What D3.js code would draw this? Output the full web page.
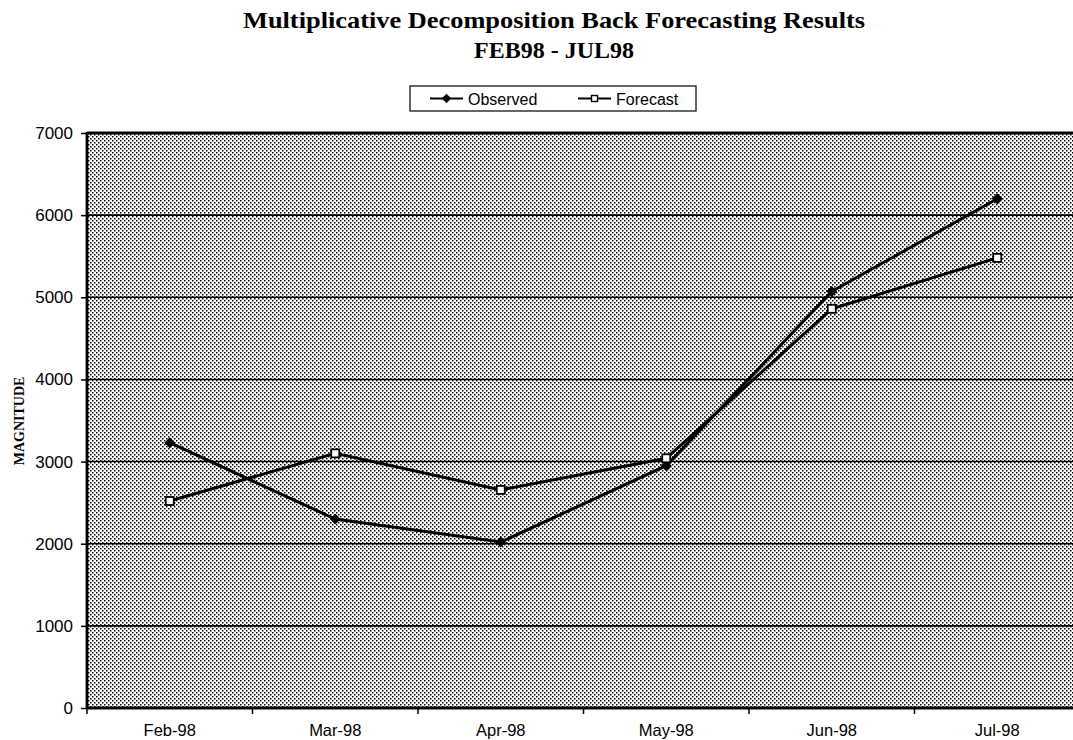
<!DOCTYPE html>
<html><head><meta charset="utf-8">
<script src="https://cdn.jsdelivr.net/npm/d3@7"></script>
<style>body{margin:0;background:#fff}svg{display:block}</style>
</head><body>
<svg id="chart" width="1073" height="740"></svg>
<script>
const categories = ["Feb-98","Mar-98","Apr-98","May-98","Jun-98","Jul-98"];
const observed = [3230, 2300, 2020, 2950, 5070, 6200];
const forecast = [2520, 3100, 2655, 3040, 4860, 5480];
const yTicks = [0,1000,2000,3000,4000,5000,6000,7000];
const titleLines = ["Multiplicative Decomposition Back Forecasting Results","FEB98 - JUL98"];
const yTitle = "MAGNITUDE";
const seriesNames = ["Observed","Forecast"];

const svg = d3.select("#chart");
const L = 87, R = 1080, T = 133, B = 708;
const sans = "Arial, 'Liberation Sans', sans-serif";
const serif = "'Times New Roman', 'Liberation Serif', serif";

const defs = svg.append("defs");
const pat = defs.append("pattern").attr("id","dots").attr("patternUnits","userSpaceOnUse")
  .attr("width",4).attr("height",4);
pat.append("rect").attr("width",4).attr("height",4).attr("fill","#ffffff");
pat.append("rect").attr("x",0).attr("y",0).attr("width",1.5).attr("height",1.5).attr("fill","#000");
pat.append("rect").attr("x",2).attr("y",2).attr("width",1.5).attr("height",1.5).attr("fill","#000");

const x = d3.scaleBand().domain(categories).range([L,R]);
const y = d3.scaleLinear().domain([0,7000]).range([B,T]);

svg.append("rect").attr("x",L).attr("y",T).attr("width",R-L).attr("height",B-T).attr("fill","url(#dots)");

svg.append("g").selectAll("line").data(yTicks.filter(d=>d>0 && d<7000)).join("line")
  .attr("x1",L).attr("x2",R).attr("y1",d=>y(d)).attr("y2",d=>y(d))
  .attr("stroke","#000").attr("stroke-width",1.6);

svg.append("line").attr("x1",L).attr("x2",R).attr("y1",T).attr("y2",T).attr("stroke","#000").attr("stroke-width",2.8);
svg.append("line").attr("x1",L).attr("x2",L).attr("y1",T-1).attr("y2",B+1).attr("stroke","#000").attr("stroke-width",2.8);
svg.append("line").attr("x1",L-1).attr("x2",R).attr("y1",B).attr("y2",B).attr("stroke","#000").attr("stroke-width",2.8);

const yAxis = d3.axisLeft(y).tickValues(yTicks).tickSize(6).tickPadding(8).tickFormat(d3.format("d"));
const gy = svg.append("g").attr("transform",`translate(${L},0)`).call(yAxis);
gy.select(".domain").remove();
gy.selectAll(".tick line").attr("stroke","#000").attr("stroke-width",1.5);
gy.selectAll("text").attr("font-family",sans).attr("font-size",17).attr("fill","#000");

const xAxis = d3.axisBottom(x).tickSize(0).tickPadding(16);
const gx = svg.append("g").attr("transform",`translate(0,${B})`).call(xAxis);
gx.select(".domain").remove();
gx.selectAll("text").attr("font-family",sans).attr("font-size",16.5).attr("fill","#000");
svg.append("g").selectAll("line").data(d3.range(categories.length+1)).join("line")
  .attr("x1",i=>L+i*x.step()).attr("x2",i=>L+i*x.step())
  .attr("y1",B).attr("y2",B+6).attr("stroke","#000").attr("stroke-width",1.5);

const cx = d => x(d)+x.bandwidth()/2;
const line = d3.line().x((d,i)=>cx(categories[i])).y(d=>y(d));

svg.append("path").datum(forecast).attr("d",line).attr("fill","none").attr("stroke","#000").attr("stroke-width",3);
svg.append("path").datum(observed).attr("d",line).attr("fill","none").attr("stroke","#000").attr("stroke-width",3);

svg.append("g").selectAll("path").data(observed).join("path")
  .attr("d",d3.symbol().type(d3.symbolSquare).size(60))
  .attr("transform",(d,i)=>`translate(${cx(categories[i])},${y(d)}) rotate(45)`)
  .attr("fill","#000");
svg.append("g").selectAll("rect").data(forecast).join("rect")
  .attr("x",(d,i)=>cx(categories[i])-4).attr("y",d=>y(d)-4).attr("width",8).attr("height",8)
  .attr("fill","#fff").attr("stroke","#000").attr("stroke-width",1.8);

const tl = [622, null];
svg.append("g").selectAll("text").data(titleLines).join("text")
  .attr("x",554).attr("y",(d,i)=>28+i*30).attr("text-anchor","middle")
  .attr("font-family",serif).attr("font-weight","bold").attr("font-size",24)
  .each(function(d,i){ if(tl[i]) d3.select(this).attr("textLength",tl[i]).attr("lengthAdjust","spacingAndGlyphs"); })
  .text(d=>d);

svg.append("text").attr("transform","translate(24,421) rotate(-90)").attr("text-anchor","middle")
  .attr("font-family",serif).attr("font-weight","bold").attr("font-size",14)
  .text(yTitle);

const lg = svg.append("g");
lg.append("rect").attr("x",410).attr("y",86).attr("width",286).attr("height",25).attr("fill","#fff").attr("stroke","#000").attr("stroke-width",1.2);
const lx = [430, 578];
seriesNames.forEach((name,i)=>{
  lg.append("line").attr("x1",lx[i]).attr("x2",lx[i]+33).attr("y1",98.5).attr("y2",98.5).attr("stroke","#000").attr("stroke-width",2.2);
  if(i===0){
    lg.append("path").attr("d",d3.symbol().type(d3.symbolSquare).size(45)).attr("transform",`translate(${lx[i]+16.5},98.5) rotate(45)`).attr("fill","#000");
  } else {
    lg.append("rect").attr("x",lx[i]+13.5).attr("y",95.5).attr("width",6).attr("height",6).attr("fill","#fff").attr("stroke","#000").attr("stroke-width",1.4);
  }
  lg.append("text").attr("x",lx[i]+38).attr("y",104.5).attr("font-family",sans).attr("font-size",16).text(name);
});
</script>
</body></html>
